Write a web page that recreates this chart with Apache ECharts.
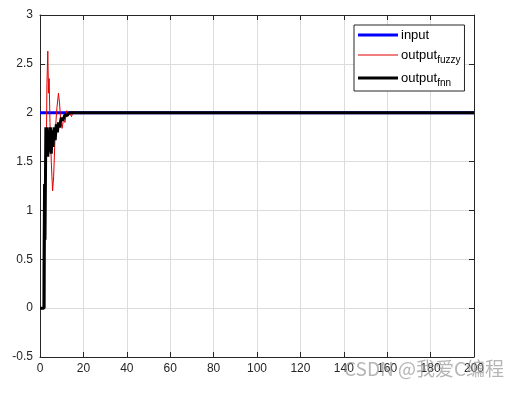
<!DOCTYPE html>
<html>
<head>
<meta charset="utf-8">
<script src="https://cdn.jsdelivr.net/npm/echarts@6/dist/echarts.min.js"></script>
<style>
html,body{margin:0;padding:0;background:#fff;}
#chart{width:520px;height:393px;}
</style>
</head>
<body>
<div id="chart"></div>
<script>
// Data
var inputX = [0, 200];
var inputY = [2, 2];

var fuzzyX = [0, 2.3, 2.6, 2.9, 3.2, 3.6, 3.9, 4.2, 4.6, 5.2, 5.8, 6.3, 7.0, 7.8, 8.5, 9.0, 9.6, 10.2, 10.8, 11.5, 12.3, 13.0, 13.8, 14.5, 15.3, 16.2, 17.2, 18.5, 20, 200];
var fuzzyY = [0, 0, 1.5, 1.56, 2.3, 2.63, 2.2, 2.35, 1.9, 1.5, 1.2, 1.35, 1.8, 2.05, 2.2, 2.1, 1.9, 1.84, 1.93, 1.9, 2.02, 1.97, 2.0, 1.96, 2.01, 1.99, 2.0, 1.99, 2.0, 2.0];

var fnnX = [0, 1.8, 1.85, 2.0, 2.1, 2.3, 2.5, 2.7, 3.0, 3.3, 3.6, 4.0, 4.3, 4.8, 5.2, 5.6, 6.0, 6.5, 7.0, 7.5, 8.0, 8.5, 9.0, 9.8, 10.5, 11.5, 12.5, 13.5, 200];
var fnnY = [0, 0, 0.42, 0.42, 1.27, 0.7, 1.27, 1.85, 1.7, 1.85, 1.55, 1.8, 1.6, 1.85, 1.58, 1.82, 1.65, 1.85, 1.72, 1.88, 1.8, 1.9, 1.85, 1.95, 1.92, 1.98, 1.97, 2.0, 2.0];

var seriesNames = ['input', 'output_fuzzy', 'output_fnn'];

function zip(xs, ys) { return xs.map(function (x, i) { return [x, ys[i]]; }); }

var chart = echarts.init(document.getElementById('chart'), null, {renderer: 'canvas'});
var font = 'Liberation Sans, Arial, Helvetica, sans-serif';
var axisCol = '#262626';

var thickIcon = 'path://M0,0 M0,5.5 H40 V8.5 H0 Z M40,14';
var thinIcon = 'path://M0,0 M0,6.5 H40 V7.5 H0 Z M40,14';

chart.setOption({
  animation: false,
  backgroundColor: '#ffffff',
  textStyle: {fontFamily: font},
  grid: {left: 40, right: 46, top: 15, bottom: 36, containLabel: false},
  xAxis: [{
    type: 'value', min: 0, max: 200, interval: 20,
    axisLine: {show: true, onZero: false, lineStyle: {color: axisCol, width: 1}},
    axisTick: {show: true, inside: true, length: 5, lineStyle: {color: axisCol}},
    axisLabel: {color: axisCol, fontSize: 12, fontFamily: font, margin: 6},
    splitLine: {show: true, lineStyle: {color: '#dcdcdc', width: 1}}
  }, {
    type: 'value', min: 0, max: 200, interval: 20, position: 'top',
    axisLine: {show: true, onZero: false, lineStyle: {color: axisCol, width: 1}},
    axisTick: {show: true, inside: true, length: 5, lineStyle: {color: axisCol}},
    axisLabel: {show: false}, splitLine: {show: false}
  }],
  yAxis: [{
    type: 'value', min: -0.5, max: 3, interval: 0.5,
    axisLine: {show: true, onZero: false, lineStyle: {color: axisCol, width: 1}},
    axisTick: {show: true, inside: true, length: 5, lineStyle: {color: axisCol}},
    axisLabel: {color: axisCol, fontSize: 12, fontFamily: font, margin: 7},
    splitLine: {show: true, lineStyle: {color: '#dcdcdc', width: 1}}
  }, {
    type: 'value', min: -0.5, max: 3, interval: 0.5, position: 'right',
    axisLine: {show: true, onZero: false, lineStyle: {color: axisCol, width: 1}},
    axisTick: {show: true, inside: true, length: 5, lineStyle: {color: axisCol}},
    axisLabel: {show: false}, splitLine: {show: false}
  }],
  legend: {
    orient: 'vertical',
    left: 354, top: 25,
    padding: [3, 4, 3, 4],
    itemGap: 6,
    itemWidth: 40,
    itemHeight: 14,
    backgroundColor: '#ffffff',
    borderColor: axisCol,
    borderWidth: 1,
    borderRadius: 0,
    data: [
      {name: seriesNames[0], icon: thickIcon},
      {name: seriesNames[1], icon: thinIcon},
      {name: seriesNames[2], icon: thickIcon}
    ],
    formatter: function (name) {
      if (name === 'input') return '{m|input}';
      var parts = name.split('_');
      return '{m|' + parts[0] + '}{s|' + parts[1] + '}';
    },
    textStyle: {
      fontFamily: font, fontSize: 13, color: '#000',
      padding: [0, 0, 0, -2],
      rich: {
        m: {fontSize: 13, fontFamily: font, color: '#000'},
        s: {fontSize: 10, fontFamily: font, color: '#000', padding: [10, 0, 0, 0]}
      }
    }
  },
  series: [{
    name: seriesNames[0], type: 'line', symbol: 'none', data: zip(inputX, inputY),
    lineStyle: {color: '#0000ff', width: 3}, itemStyle: {color: '#0000ff'}, z: 2
  }, {
    name: seriesNames[1], type: 'line', symbol: 'none', data: zip(fuzzyX, fuzzyY),
    lineStyle: {color: '#e00000', width: 1}, itemStyle: {color: '#e00000'}, z: 3
  }, {
    name: seriesNames[2], type: 'line', symbol: 'none', data: zip(fnnX, fnnY),
    lineStyle: {color: '#000000', width: 3}, itemStyle: {color: '#000000'}, z: 4
  }],
  graphic: [{
    type: 'text', left: 344, top: 359, silent: true, z: 100,
    style: {text: 'CSDN @我爱C编程', fontSize: 19, fontFamily: 'Noto Sans CJK SC, sans-serif', fill: 'rgba(150,150,150,0.7)'}
  }]
});
</script>
</body>
</html>
